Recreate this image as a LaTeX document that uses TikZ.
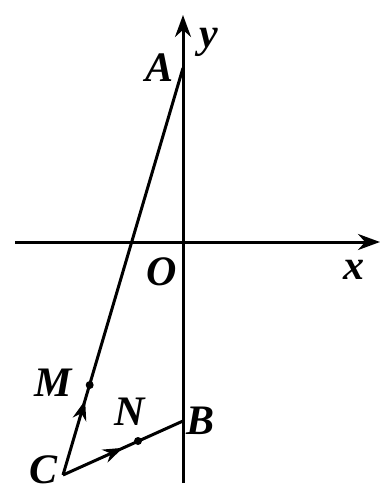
\documentclass[tikz,border=0pt]{standalone}
\usepackage{fontspec}
\setmainfont{Liberation Serif}
\usetikzlibrary{arrows.meta,decorations.markings}
\begin{document}
\begin{tikzpicture}[x=0.5pt,y=-0.5pt,line width=1.5pt,
  lbl/.style={font=\fontsize{21}{24}\selectfont\itshape\bfseries, inner sep=0pt},
  axisarrow/.style={-{Stealth[length=11pt,width=8pt]}},
  midarrow/.style={postaction={decorate},decoration={markings,mark=at position #1 with {\arrow{Stealth[length=10pt,width=7pt]}}}},
  dot/.style={circle,fill=black,inner sep=0pt,minimum size=4pt}]
\useasboundingbox (0,0) rectangle (381,494);
\coordinate (xs) at (15,242);
\coordinate (xe) at (380,242);
\coordinate (ys) at (183,483);
\coordinate (ye) at (183,15);
\coordinate (A) at (183,68);
\coordinate (C) at (63,475);
\coordinate (B) at (183,421);
\node[dot] (M) at (89.7,385) {};
\node[dot] (N) at (138,441) {};
\draw[axisarrow] (xs) -- (xe);
\draw[axisarrow] (ys) -- (ye);
\draw (C) -- (A);
\draw (C) -- (B);
\path[midarrow=0.83] (C) -- (M.center);
\path[midarrow=0.8] (C) -- (N.center);
\node[lbl] (lA) at (160,68) {A};
\node[lbl] (ly) at (209,42) {y};
\node[lbl] (lO) at (162,272) {O};
\node[lbl] (lx) at (354,270) {x};
\node[lbl] (lM) at (53,383) {M};
\node[lbl] (lN) at (130,412) {N};
\node[lbl] (lB) at (201,421) {B};
\node[lbl] (lC) at (44,470) {C};
\end{tikzpicture}
\end{document}
